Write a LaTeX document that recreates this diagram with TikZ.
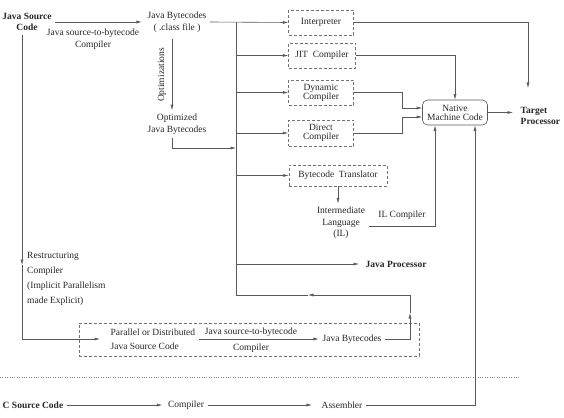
\documentclass[tikz,border=0pt]{standalone}
\usepackage{fontspec}
\setmainfont{Liberation Serif}
\usetikzlibrary{arrows.meta}
\begin{document}
\begin{tikzpicture}[x=1pt,y=-1pt,
  every node/.style={font=\fontsize{9.5}{11.5}\selectfont,text=black!85,inner sep=3.5pt},
  ln/.style={draw=black!65,semithick},
  arr/.style={ln,-{Latex[length=5.5pt,width=3pt]}},
  bold/.style={font=\fontsize{9.5}{11.5}\selectfont\bfseries},
  dbox/.style={draw=black!55,dash pattern=on 3pt off 2pt,minimum width=65pt,minimum height=25pt,align=center,inner sep=2pt},
  tight/.style={font=\fontsize{9.5}{9}\selectfont}]
\useasboundingbox (0,0) rectangle (564,417);
% java part
\node[bold,align=center] (jsrc) at (27,22) {Java Source\\Code};
\node[align=center] (lbla) at (93,39) {Java source-to-bytecode\\Compiler};
\node[align=center] (jbc) at (177,22) {Java Bytecodes\\( .class file )};
\node[align=center] (opt) at (177,124) {Optimized\\Java Bytecodes};
\node[rotate=90] (optl) at (162,75) {Optimizations};
\node[dbox] (interp) at (321,22.5) {Interpreter};
\node[dbox,minimum width=67pt] (jit) at (322,55.5) {JIT\ \ Compiler};
\node[dbox,tight] (dyn) at (321,92.5) {Dynamic\\Compiler};
\node[dbox,tight,minimum height=26pt] (dir) at (321,133) {Direct\\Compiler};
\node[draw=black!65,semithick,rounded corners=5pt,tight,align=center,inner sep=2pt,minimum width=65pt,minimum height=25pt] (nmc) at (455,112.5) {Native\\Machine Code};
\node[bold,align=left,anchor=west] (tgt) at (517,116) {Target\\Processor};
\node[dbox,minimum width=98pt,minimum height=21pt] (bct) at (338,175.5) {Bytecode\ \ Translator};
\node[align=center] (il) at (341,223) {Intermediate\\Language\\(IL)};
\node (ilc) at (402,215) {IL Compiler};
\node[bold,anchor=west] (jp) at (362,264) {Java Processor};
\node[align=left,anchor=north west,font=\fontsize{9.5}{15}\selectfont,inner sep=2pt] (rst) at (25,250) {Restructuring\\Compiler\\(Implicit Parallelism\\made Explicit)};
\node[dbox,minimum width=340pt,minimum height=33pt] (pbox) at (249,339.5) {};
\node[align=left,anchor=west,font=\fontsize{9.5}{14}\selectfont] (pdj) at (107,339) {Parallel or Distributed\\Java Source Code};
\node[align=center,font=\fontsize{9.5}{16}\selectfont] (plbl) at (251,340) {Java source-to-bytecode\\Compiler};
\node (pbc) at (352,339) {Java Bytecodes};
% c part
\node[bold] (csrc) at (33,405) {C Source Code};
\node (ccomp) at (186,405) {Compiler};
\node (asm) at (342,405) {Assembler};
\coordinate (bt) at (236,22.5);
\coordinate (bb) at (236,295);
\coordinate (obus) at (236,148);
\coordinate (rsm) at (22,265);
\coordinate (fbm) at (410,313);
\coordinate (fbc) at (410,295);
\coordinate (fbl) at (308,295);
\coordinate (tgtin) at (528,88);
\draw[arr,shorten >=2pt] (jsrc.east) -- (jsrc.east -| jbc.west);
\draw[arr] ([xshift=-5pt,yshift=-3pt]jbc.south) -- ([xshift=-5pt]opt.north);
\draw[arr] ([xshift=-5pt]opt.south) |- (obus);
\draw[arr] (jbc.east) -- (interp.west);
\draw[ln] (bt) -- (bb);
\draw[arr] (jit.west -| bt) -- (jit.west);
\draw[arr] (dyn.west -| bt) -- (dyn.west);
\draw[arr] (dir.west -| bt) -- (dir.west);
\draw[arr] (bct.west -| bt) -- (bct.west);
\draw[arr,shorten >=3pt] (jp.west -| bt) -- (jp.west);
\draw[arr] (interp.east) -| (tgtin);
\draw[arr] (jit.east) -| (nmc.north);
\draw[arr] (dyn.east) -- ++(49,0) |- ([yshift=4.5pt]nmc.west);
\draw[arr] (dir.east) -- ++(49,0) |- ([yshift=-4.5pt]nmc.west);
\draw[arr,shorten >=4pt] (nmc.east) -- (nmc.east -| tgt.west);
\draw[arr] (bct.south) -- (bct.south |- il.north);
\draw[arr] ([yshift=-3pt]il.east) -| ([xshift=-20pt]nmc.south);
% restructuring path
\draw[arr] (jsrc.south -| rsm) -- (rsm);
\draw[arr] (rsm) |- ([xshift=-7pt]pdj.west);
\draw[arr] (pdj.east) -- (pdj.east -| pbc.west);
\draw[arr] (pbc.east) -| (fbm);
\draw[ln] (fbm) -- (fbc);
\draw[arr] (fbc) -- (fbl);
\draw[ln] (fbl) -- (bb);
\draw[dotted,black!50] (0,377) -- (520,377);
\draw[arr,shorten >=2pt] (csrc.east) -- (ccomp.west);
\draw[arr,shorten >=6pt] (ccomp.east) -- (asm.west);
\draw[arr] (asm.east) -| ([xshift=20pt]nmc.south);
\end{tikzpicture}
\end{document}
